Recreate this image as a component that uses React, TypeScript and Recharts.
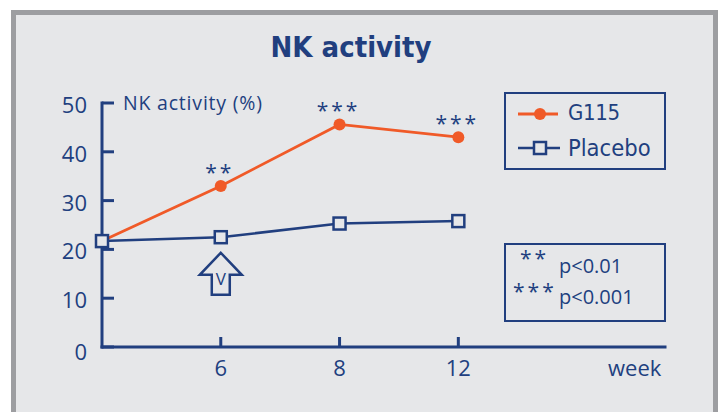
import { LineChart, Line, XAxis, YAxis, LabelList, ReferenceDot } from 'recharts';

// values (week 0 = baseline)
const weeks = ['0', '6', '8', '12'];
const g115 = [21.7, 33.0, 45.6, 43.0];
const placebo = [21.7, 22.5, 25.3, 25.8];
const stars = ['', '**', '***', '***'];
const yTicks = [0, 10, 20, 30, 40, 50];
const xTicks = [1, 2, 3];

const NAVY = '#213f7f';
const ORANGE = '#f05a28';
const BG = '#e6e7e9';
const FONT = '"Open Sans", "Noto Sans", sans-serif';
const COND = '"DejaVu Sans Condensed", "Liberation Sans Narrow", "Roboto Condensed", sans-serif';

const data = weeks.map((w, i) => ({ i, week: w, g115: g115[i], placebo: placebo[i], sig: stars[i] }));

function YTick({ x, y, payload }: any) {
  return (
    <g>
      <line x1={x} x2={x + 12} y1={y} y2={y} stroke={NAVY} strokeWidth={3} />
      <text x={x - 15} y={y + (payload.value === 0 ? 4 : 1)} textAnchor="end" dominantBaseline="central"
        fontFamily={FONT} fontSize={22} fill={NAVY}>{payload.value}</text>
    </g>
  );
}

function XTick({ x, y, payload }: any) {
  return (
    <g>
      <line x1={x} x2={x} y1={y} y2={y - 10} stroke={NAVY} strokeWidth={3} />
      <text x={x} y={y + 20} textAnchor="middle" dominantBaseline="central"
        fontFamily={FONT} fontSize={22} fill={NAVY}>{weeks[payload.value]}</text>
    </g>
  );
}

function SquareDot({ cx, cy }: any) {
  return <rect x={cx - 6} y={cy - 6} width={12} height={12} fill={BG} stroke={NAVY} strokeWidth={2.5} />;
}

function Stars(p: any) {
  if (!p.value) return null;
  return (
    <text x={p.x - 1} y={p.y - 6} textAnchor="middle" fontFamily={FONT} fontSize={21}
      letterSpacing={3} fill={NAVY}>{p.value}</text>
  );
}

function Arrow({ cx, cy }: any) {
  const pts = [[0, -21], [21, 1], [9, 1], [9, 21], [-9, 21], [-9, 1], [-21, 1]]
    .map(([dx, dy]) => `${cx + dx},${cy + dy}`).join(' ');
  return (
    <g>
      <polygon points={pts} fill={BG} stroke={NAVY} strokeWidth={2.5} strokeLinejoin="miter" />
      <text x={cx} y={cy + 5} textAnchor="middle" dominantBaseline="central" fontFamily={FONT}
        fontSize={17} fill={NAVY}>V</text>
    </g>
  );
}

const abs = (left: number, cy: number, size: number, extra: any = {}) => ({
  position: 'absolute' as const, left, top: cy - 15, height: 30, lineHeight: '30px',
  fontSize: size, color: NAVY, whiteSpace: 'nowrap' as const, ...extra,
});

export default function App() {
  return (
    <div style={{ position: 'fixed', left: 0, top: 0, width: 721, height: 412, overflow: 'hidden', background: '#fff', fontFamily: FONT }}>
      <div style={{ position: 'absolute', left: 11, top: 10, width: 697, height: 420, border: '5px solid #9d9ea1', background: BG }} />
      <div style={{ position: 'absolute', left: 0, top: 30, width: 702, textAlign: 'center', fontFamily: COND, fontWeight: 'bold', fontSize: 29, color: NAVY, lineHeight: '34px' }}>
        NK activity
      </div>

      <div style={{ position: 'absolute', left: 0, top: 0 }}>
        <LineChart width={721} height={412} data={data} margin={{ top: 103, right: 56, left: 0, bottom: 35 }}>
          <XAxis type="number" dataKey="i" domain={[0, 4.74]} ticks={xTicks} interval={0} height={30}
            tickSize={0} tickMargin={0} tickLine={false} tick={<XTick />}
            axisLine={{ stroke: NAVY, strokeWidth: 3, strokeLinecap: 'square' }} />
          <YAxis type="number" domain={[0, 50]} ticks={yTicks} interval={0} width={102}
            tickSize={0} tickMargin={0} tickLine={false} tick={<YTick />}
            axisLine={{ stroke: NAVY, strokeWidth: 3, strokeLinecap: 'square' }} />
          <ReferenceDot x={1} y={15} shape={<Arrow />} />
          <Line dataKey="g115" stroke={ORANGE} strokeWidth={2.8} isAnimationActive={false}
            dot={{ r: 6, fill: ORANGE, stroke: 'none' }}>
            <LabelList dataKey="sig" content={<Stars />} />
          </Line>
          <Line dataKey="placebo" stroke={NAVY} strokeWidth={2.5} isAnimationActive={false} dot={<SquareDot />} />
        </LineChart>
      </div>

      <div style={abs(123, 103, 19.5, { letterSpacing: 0.8 })}>NK activity (%)</div>
      <div style={abs(608, 367, 22)}>week</div>

      <div style={{ position: 'absolute', left: 504, top: 92, width: 158, height: 74, border: `2px solid ${NAVY}` }} />
      <svg style={{ position: 'absolute', left: 516, top: 104 }} width={46} height={56}>
        <line x1={2} x2={42} y1={10} y2={10} stroke={ORANGE} strokeWidth={2.8} />
        <circle cx={24} cy={10} r={6} fill={ORANGE} />
        <line x1={2} x2={44} y1={44} y2={44} stroke={NAVY} strokeWidth={2.5} />
        <rect x={18} y={38} width={12} height={12} fill={BG} stroke={NAVY} strokeWidth={2.5} />
      </svg>
      <div style={abs(568, 113, 22, { fontFamily: COND, letterSpacing: -0.3 })}>G115</div>
      <div style={abs(568, 148, 23.5, { fontFamily: COND })}>Placebo</div>

      <div style={{ position: 'absolute', left: 504, top: 243, width: 158, height: 75, border: `2px solid ${NAVY}` }} />
      <div style={abs(520, 258, 21, { letterSpacing: 3 })}>**</div>
      <div style={abs(559, 266, 20)}>p&lt;0.01</div>
      <div style={abs(513, 291, 21, { letterSpacing: 3 })}>***</div>
      <div style={abs(559, 297, 20)}>p&lt;0.001</div>
    </div>
  );
}
